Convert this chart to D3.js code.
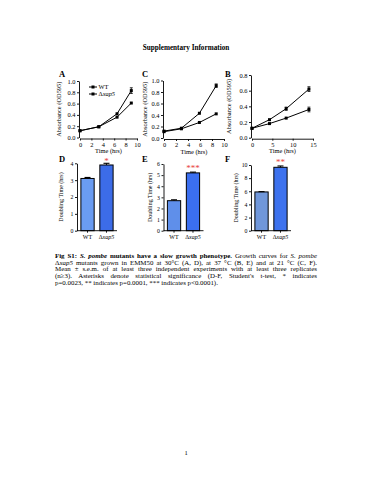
<!DOCTYPE html>
<html><head><meta charset="utf-8">
<script src="https://cdn.jsdelivr.net/npm/d3@7"></script>
<style>
html,body{margin:0;padding:0;background:#fff;}
svg{display:block;font-family:"Liberation Serif","Times New Roman",serif;}
</style></head>
<body><svg id="c" width="371" height="480"></svg>
<script>
// ---------- data ----------
const seriesNames = ["WT", "Δxap5"];
// Panel A (30°C)
const timeA = [0, 3.3, 6.5, 9];
const wtA = [0.12, 0.19, 0.42, 0.83];
const wtAErr = [0.01, 0.01, 0.015, 0.05];
const xapA = [0.12, 0.19, 0.36, 0.61];
const xapAErr = [0.01, 0.01, 0.01, 0.015];
// Panel C (21°C)
const timeC = [0, 2.9, 5.9, 8.7];
const wtC = [0.12, 0.17, 0.43, 0.91];
const wtCErr = [0.01, 0.01, 0.02, 0.03];
const xapC = [0.11, 0.16, 0.27, 0.42];
const xapCErr = [0.01, 0.01, 0.01, 0.02];
// Panel B (37°C)
const timeB = [0, 4.3, 8.4, 14];
const wtB = [0.12, 0.23, 0.37, 0.62];
const wtBErr = [0.01, 0.01, 0.02, 0.03];
const xapB = [0.12, 0.18, 0.25, 0.36];
const xapBErr = [0.01, 0.01, 0.01, 0.03];
// Doubling times
const dblD = [3.1, 3.9], dblDErr = [0.06, 0.1];
const dblE = [2.7, 5.2], dblEErr = [0.08, 0.07];
const dblF = [5.9, 9.65], dblFErr = [0.05, 0.2];
const ticksLineX10 = [0, 2, 4, 6, 8, 10];
const ticksLineX15 = [0, 5, 10, 15];
const ticksAbs10 = [0, 0.2, 0.4, 0.6, 0.8, 1.0];
const ticksAbs08 = [0, 0.2, 0.4, 0.6, 0.8];
const starsD = "*", starsE = "***", starsF = "**";

const svg = d3.select("#c");
const FONT = "Liberation Serif";

// Title
svg.append("text").attr("x", 186).attr("y", 50).attr("text-anchor", "middle")
  .attr("font-size", 7.2).attr("font-weight", "bold").text("Supplementary Information");

function panelLabel(t, x, y) {
  svg.append("text").attr("x", x).attr("y", y).attr("font-size", 8.5)
    .attr("font-weight", "bold").text(t);
}

function styleAxis(g) {
  g.selectAll("path.domain").attr("stroke", "#000").attr("stroke-width", 0.9);
  g.selectAll(".tick line").attr("stroke", "#000").attr("stroke-width", 0.9);
  g.selectAll(".tick text").attr("font-family", FONT).attr("font-size", 6.4).attr("fill", "#000");
}

function linePanel(cfg) {
  const x = d3.scaleLinear().domain(cfg.xd).range([cfg.x0, cfg.x1]);
  const y = d3.scaleLinear().domain(cfg.yd).range([cfg.y0, cfg.y1]);
  const gx = svg.append("g").attr("transform", `translate(0,${cfg.y0 + 1})`)
    .call(d3.axisBottom(x).tickValues(cfg.xt).tickSize(2).tickSizeOuter(0).tickPadding(1.5).tickFormat(d3.format("d")));
  styleAxis(gx);
  const gy = svg.append("g").attr("transform", `translate(${cfg.x0 - 1},0)`)
    .call(d3.axisLeft(y).tickValues(cfg.yt).tickSize(2).tickSizeOuter(0).tickPadding(1.5).tickFormat(d3.format(".1f")));
  styleAxis(gy);
  svg.append("text").attr("x", (cfg.x0 + cfg.x1) / 2).attr("y", cfg.y0 + 15.5)
    .attr("text-anchor", "middle").attr("font-size", 6.4).text("Time (hrs)");
  svg.append("text").attr("transform", `translate(${cfg.tx},${(cfg.y0 + cfg.y1) / 2}) rotate(-90)`)
    .attr("text-anchor", "middle").attr("font-size", 6.4).text("Absorbance (OD595)");
  const line = d3.line().x(d => x(d[0])).y(d => y(d[1]));
  cfg.series.forEach(s => {
    const pts = s.t.map((t, i) => [t, s.v[i], s.e[i]]);
    svg.append("path").datum(pts).attr("d", line).attr("fill", "none")
      .attr("stroke", "#000").attr("stroke-width", 1);
    const g = svg.append("g");
    pts.forEach(p => {
      if (y(p[1] - p[2]) - y(p[1] + p[2]) > 2.5) {
        g.append("line").attr("x1", x(p[0])).attr("x2", x(p[0]))
          .attr("y1", y(p[1] - p[2])).attr("y2", y(p[1] + p[2])).attr("stroke", "#000").attr("stroke-width", 0.8);
        [p[1] - p[2], p[1] + p[2]].forEach(v => g.append("line").attr("x1", x(p[0]) - 1.5).attr("x2", x(p[0]) + 1.5)
          .attr("y1", y(v)).attr("y2", y(v)).attr("stroke", "#000").attr("stroke-width", 0.8));
      }
      g.append("rect").attr("x", x(p[0]) - 1.5).attr("y", y(p[1]) - 1.5).attr("width", 3).attr("height", 3).attr("fill", "#000");
    });
  });
}

function barPanel(cfg) {
  const x = d3.scaleBand().domain(seriesNames).range([cfg.x0 + 2, cfg.x0 + 38]).paddingInner(0.3).paddingOuter(0.1);
  const y = d3.scaleLinear().domain([0, cfg.ymax]).range([cfg.y0, cfg.y1]);
  cfg.vals.forEach((v, i) => {
    svg.append("rect").attr("x", x(seriesNames[i])).attr("y", y(v))
      .attr("width", x.bandwidth()).attr("height", y(0) - y(v))
      .attr("fill", cfg.colors[i]).attr("stroke", "#000").attr("stroke-width", 1);
    const cx = x(seriesNames[i]) + x.bandwidth() / 2;
    const e = cfg.errs[i];
    svg.append("line").attr("x1", cx).attr("x2", cx).attr("y1", y(v)).attr("y2", y(v + e))
      .attr("stroke", "#000").attr("stroke-width", 0.9);
    svg.append("line").attr("x1", cx - 3).attr("x2", cx + 3).attr("y1", y(v + e)).attr("y2", y(v + e))
      .attr("stroke", "#000").attr("stroke-width", 1.1);
  });
  const gy = svg.append("g").attr("transform", `translate(${cfg.x0},0)`)
    .call(d3.axisLeft(y).tickValues(d3.range(0, cfg.ymax + 0.001, cfg.step))
      .tickSize(2).tickSizeOuter(0).tickPadding(1.5).tickFormat(d3.format("d")));
  styleAxis(gy);
  gy.selectAll(".tick text").attr("font-size", 5.8);
  svg.append("line").attr("x1", cfg.x0).attr("x2", cfg.x0 + 40).attr("y1", y(0)).attr("y2", y(0))
    .attr("stroke", "#000").attr("stroke-width", 0.9);
  seriesNames.forEach(n => {
    svg.append("line").attr("x1", x(n) + x.bandwidth() / 2).attr("x2", x(n) + x.bandwidth() / 2)
      .attr("y1", y(0)).attr("y2", y(0) + 2).attr("stroke", "#000").attr("stroke-width", 0.9);
  });
  const lx = x("WT") + x.bandwidth() / 2;
  svg.append("text").attr("x", lx).attr("y", y(0) + 8.5).attr("text-anchor", "middle")
    .attr("font-size", 6).text("WT");
  const t2 = svg.append("text").attr("x", x("Δxap5") + x.bandwidth() / 2).attr("y", y(0) + 8.5)
    .attr("text-anchor", "middle").attr("font-size", 6);
  t2.append("tspan").text("Δ");
  t2.append("tspan").attr("font-style", "italic").text("xap5");
  svg.append("text").attr("transform", `translate(${cfg.tx},${(cfg.y0 + cfg.y1) / 2}) rotate(-90)`)
    .attr("text-anchor", "middle").attr("font-size", 6).text("Doubling Time (hrs)");
  svg.append("text").attr("x", x("Δxap5") + x.bandwidth() / 2).attr("y", cfg.starY)
    .attr("text-anchor", "middle").attr("font-size", 9).attr("fill", "#e8413c").text(cfg.stars);
}

panelLabel("A", 59, 77);
panelLabel("C", 142, 77);
panelLabel("B", 225, 77);
panelLabel("D", 59, 162);
panelLabel("E", 142, 162);
panelLabel("F", 225, 162);

linePanel({xd: [0, 10], yd: [0, 1], x0: 80, x1: 137, y0: 137.5, y1: 81, xt: ticksLineX10, yt: ticksAbs10, tx: 61,
  series: [{t: timeA, v: wtA, e: wtAErr}, {t: timeA, v: xapA, e: xapAErr}]});
linePanel({xd: [0, 10], yd: [0, 1], x0: 164, x1: 224, y0: 138, y1: 80.5, xt: ticksLineX10, yt: ticksAbs10, tx: 147,
  series: [{t: timeC, v: wtC, e: wtCErr}, {t: timeC, v: xapC, e: xapCErr}]});
linePanel({xd: [0, 15], yd: [0, 0.8], x0: 252, x1: 313, y0: 137.7, y1: 75, xt: ticksLineX15, yt: ticksAbs08, tx: 231,
  series: [{t: timeB, v: wtB, e: wtBErr}, {t: timeB, v: xapB, e: xapBErr}]});

// legend in A
const legY = [87, 94];
seriesNames.forEach((n, i) => {
  svg.append("line").attr("x1", 89).attr("x2", 97).attr("y1", legY[i]).attr("y2", legY[i]).attr("stroke", "#000").attr("stroke-width", 1);
  svg.append("rect").attr("x", 91.5).attr("y", legY[i] - 1.5).attr("width", 3).attr("height", 3).attr("fill", "#000");
  const t = svg.append("text").attr("x", 98.5).attr("y", legY[i] + 2.2).attr("font-size", 6.4);
  if (i === 0) t.text(n);
  else { t.append("tspan").text("Δ"); t.append("tspan").attr("font-style", "italic").text("xap5"); }
});

barPanel({x0: 77, y0: 230.7, y1: 163.3, ymax: 4, step: 1, vals: dblD, errs: dblDErr,
  colors: ["#6a9cf2", "#3c6ce8"], tx: 63, stars: starsD, starY: 164});
barPanel({x0: 163.5, y0: 230.7, y1: 164, ymax: 6, step: 1, vals: dblE, errs: dblEErr,
  colors: ["#5f8fea", "#3b6ff0"], tx: 152, stars: starsE, starY: 170.5});
barPanel({x0: 251, y0: 230.7, y1: 165, ymax: 10, step: 2, vals: dblF, errs: dblFErr,
  colors: ["#7097da", "#3d72ee"], tx: 238, stars: starsF, starY: 164.5});

// caption (justified via word-spacing)
const capX = 55, capW = 262, capFs = 6.9;
const capLines = [
  [["Fig S1: ", "b"], ["S. pombe", "bi"], [" mutants have a slow growth phenotype.", "b"], [" Growth curves for ", ""], ["S. pombe", "i"]],
  [["Δ", ""], ["xap5", "i"], [" mutants grown in EMM50 at 30°C (A, D), at 37 °C (B, E) and at 21 °C (C, F).", ""]],
  [["Mean ± s.e.m. of at least three independent experiments with at least three replicates", ""]],
  [["(n≥3). Asterisks denote statistical significance (D-F, Student's t-test, * indicates", ""]],
  [["p=0.0023, ** indicates p=0.0001, *** indicates p<0.0001).", ""]]
];
const capBase = [258, 264.7, 271.3, 278, 284.6];
capLines.forEach((segs, li) => {
  const t = svg.append("text").attr("x", capX).attr("y", capBase[li]).attr("font-size", capFs)
    .attr("xml:space", "preserve").style("white-space", "pre");
  segs.forEach(s => {
    const ts = t.append("tspan").text(s[0]);
    if (s[1].includes("b")) ts.attr("font-weight", "bold");
    if (s[1].includes("i")) ts.attr("font-style", "italic");
  });
  if (li < 4) {
    const len = t.node().getComputedTextLength();
    const nSpaces = segs.map(s => s[0]).join("").split(" ").length - 1;
    const ws = (capW - len) / nSpaces;
    if (ws >= 0) t.attr("word-spacing", ws);
    else t.attr("textLength", capW).attr("lengthAdjust", "spacingAndGlyphs");
  }
});

svg.append("text").attr("x", 186).attr("y", 455).attr("text-anchor", "middle").attr("font-size", 6.5).text("1");
</script></body></html>
